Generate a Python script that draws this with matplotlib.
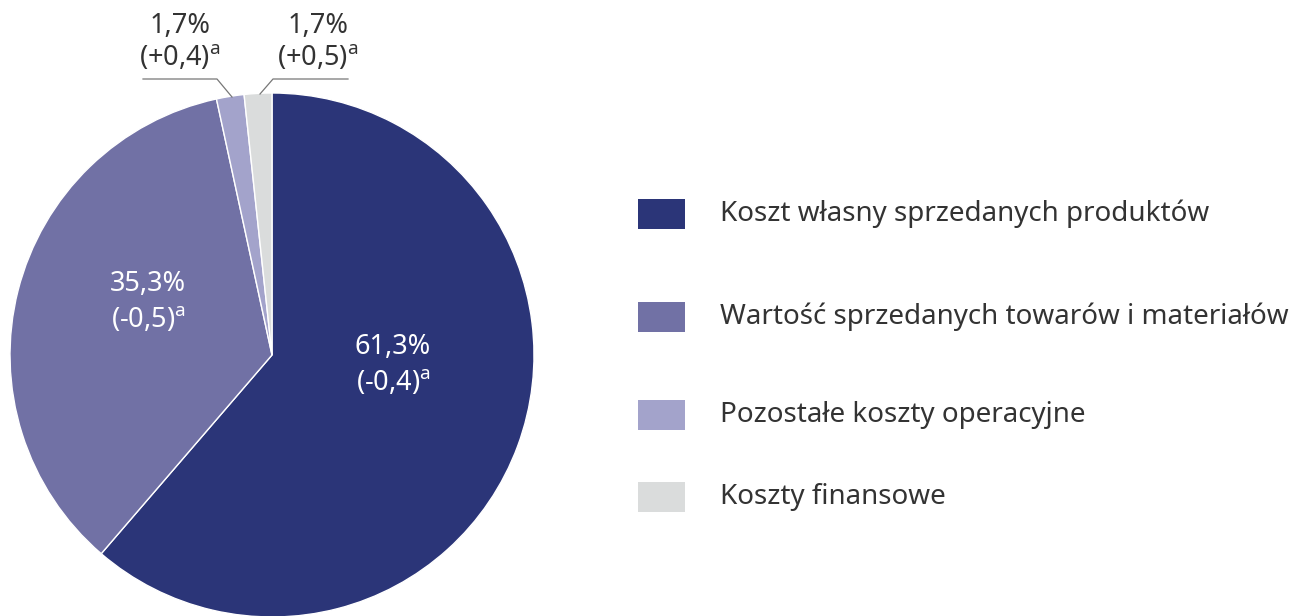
import matplotlib.pyplot as plt
from matplotlib.patches import Rectangle

plt.rcParams['font.family'] = ['Noto Sans', 'DejaVu Sans']
plt.rcParams['mathtext.fontset'] = 'custom'
plt.rcParams['mathtext.rm'] = 'Noto Sans'

categories = ['Koszt własny sprzedanych produktów',
              'Wartość sprzedanych towarów i materiałów',
              'Pozostałe koszty operacyjne',
              'Koszty finansowe']
shares = [61.3, 35.3, 1.7, 1.7]
changes = ['-0,4', '-0,5', '+0,4', '+0,5']
colors = ['#2b3578', '#7171a5', '#a3a3cb', '#dadcdc']
text_color = '#333333'

W, H = 1296, 616
fig = plt.figure(figsize=(W / 100, H / 100), dpi=100)

# pie axes: centre (272, 355) px, radius 262 px
cx, cy, r = 272, 355, 262
ax = fig.add_axes([(cx - r) / W, (H - cy - r) / H, 2 * r / W, 2 * r / H])
ax.pie(shares, colors=colors, startangle=90, counterclock=False,
       wedgeprops=dict(edgecolor='white', linewidth=1))
ax.set_xlim(-1, 1)
ax.set_ylim(-1, 1)
ax.set_aspect('auto')
ax.axis('off')


def label(s, ch):
    return f'{s:.1f}%'.replace('.', ',') + '\n' + f'({ch})' + r'$^\mathregular{a}$'


def px(x, y):
    return x / W, 1 - y / H


# labels inside the big slices
fig.text(*px(393, 365), label(shares[0], changes[0]), color='white', fontsize=19.5,
         ha='center', va='center', linespacing=1.35)
fig.text(*px(148, 302), label(shares[1], changes[1]), color='white', fontsize=19.5,
         ha='center', va='center', linespacing=1.35)

# small slices, labels above with leader lines
fig.text(*px(180, 42), label(shares[2], changes[2]), color=text_color, fontsize=19.5,
         ha='center', va='center', linespacing=1.15)
fig.text(*px(318, 42), label(shares[3], changes[3]), color=text_color, fontsize=19.5,
         ha='center', va='center', linespacing=1.15)
lc = '#777777'
fig.add_artist(plt.Line2D([143 / W, 217 / W, 232 / W],
                          [1 - 79 / H, 1 - 79 / H, 1 - 97 / H], color=lc, lw=0.9))
fig.add_artist(plt.Line2D([348 / W, 273 / W, 260 / W],
                          [1 - 79 / H, 1 - 79 / H, 1 - 94 / H], color=lc, lw=0.9))

# legend
rows_y = [214, 317, 415, 497]
for name, col, y in zip(categories, colors, rows_y):
    fig.add_artist(Rectangle(((638) / W, 1 - (y + 15) / H), 47 / W, 30 / H,
                             facecolor=col, edgecolor='none', transform=fig.transFigure))
    fig.text(720 / W, 1 - y / H, name, color=text_color, fontsize=20,
             ha='left', va='center')

fig.savefig('out.png', dpi=100)
